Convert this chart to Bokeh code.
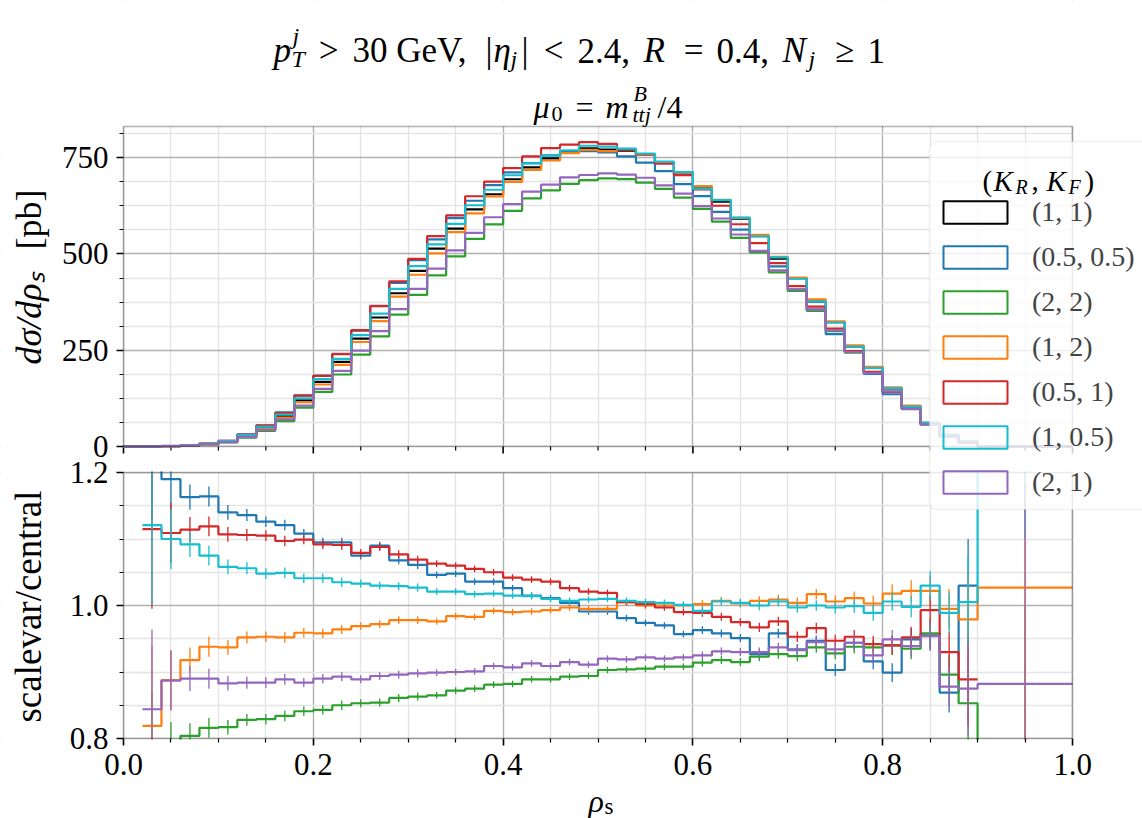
import math
from bokeh.plotting import figure
from bokeh.models import (Range1d, FixedTicker, PrintfTickFormatter, CustomJSTickFormatter,
                          Label, Legend, LegendItem, LinearAxis, Grid, BoxAnnotation)
from bokeh.embed import file_html
from bokeh.resources import INLINE

nan = float("nan")

# ---------------- data ----------------
bin_edges = [0.00, 0.02, 0.04, 0.06, 0.08, 0.10, 0.12, 0.14, 0.16, 0.18, 0.20, 0.22, 0.24,
             0.26, 0.28, 0.30, 0.32, 0.34, 0.36, 0.38, 0.40, 0.42, 0.44, 0.46, 0.48, 0.50,
             0.52, 0.54, 0.56, 0.58, 0.60, 0.62, 0.64, 0.66, 0.68, 0.70, 0.72, 0.74, 0.76,
             0.78, 0.80, 0.82, 0.84, 0.86, 0.88, 0.90, 1.00]

# central prediction (K_R, K_F) = (1, 1), d sigma / d rho_s [pb]
central = [0.0, 0.4, 1.2, 3.2, 6.5, 13, 28, 49, 79, 120, 168, 220, 280, 335, 398, 456, 514,
           566, 616, 655, 694, 725, 748, 764, 774, 771, 768, 757, 737, 712, 675, 636, 592,
           546, 488, 437, 376, 323, 260, 206, 151, 104, 60, 30, 12, 0.4]

# scale variation / central
ratio_05_05 = [nan, 1.25, 1.19, 1.163, 1.164, 1.140, 1.136, 1.126, 1.121, 1.108, 1.095, 1.095,
               1.075, 1.090, 1.068, 1.061, 1.046, 1.048, 1.036, 1.036, 1.026, 1.015, 1.011,
               1.004, 0.991, 0.991, 0.981, 0.974, 0.970, 0.957, 0.963, 0.958, 0.951, 0.927,
               0.958, 0.934, 0.947, 0.903, 0.944, 0.916, 0.899, 0.949, 0.955, 0.869, 1.030, nan]
ratio_2_2 = [nan, 0.75, 0.78, 0.804, 0.816, 0.817, 0.828, 0.829, 0.834, 0.841, 0.843, 0.850,
             0.853, 0.854, 0.861, 0.863, 0.865, 0.872, 0.875, 0.881, 0.882, 0.889, 0.889,
             0.893, 0.894, 0.903, 0.904, 0.905, 0.908, 0.908, 0.914, 0.918, 0.915, 0.923,
             0.927, 0.924, 0.937, 0.928, 0.938, 0.937, 0.940, 0.935, 0.958, 0.896, 0.853, 0.70]
ratio_1_2 = [nan, 0.819, 0.888, 0.918, 0.938, 0.937, 0.952, 0.953, 0.952, 0.959, 0.958, 0.964,
             0.969, 0.972, 0.978, 0.978, 0.976, 0.984, 0.983, 0.992, 0.990, 0.991, 0.993,
             0.997, 0.995, 0.995, 1.005, 1.000, 1.000, 1.000, 1.002, 1.007, 1.003, 1.007,
             1.009, 1.004, 1.017, 1.006, 1.011, 1.003, 1.018, 1.022, 1.022, 0.995, 0.979, 1.027]
ratio_05_1 = [nan, 1.115, 1.109, 1.114, 1.119, 1.107, 1.106, 1.105, 1.097, 1.099, 1.092, 1.091,
              1.079, 1.088, 1.077, 1.069, 1.063, 1.060, 1.055, 1.050, 1.042, 1.039, 1.036,
              1.026, 1.021, 1.019, 1.005, 1.002, 0.997, 0.990, 0.989, 0.983, 0.975, 0.967,
              0.976, 0.953, 0.966, 0.947, 0.953, 0.942, 0.940, 0.952, 0.993, 0.930, 0.889, nan]
ratio_1_05 = [nan, 1.121, 1.100, 1.092, 1.075, 1.058, 1.056, 1.048, 1.049, 1.041, 1.041, 1.035,
              1.033, 1.030, 1.029, 1.027, 1.021, 1.021, 1.017, 1.018, 1.015, 1.014, 1.010,
              1.007, 1.009, 1.010, 1.007, 1.005, 1.004, 1.001, 0.992, 1.006, 1.004, 1.000,
              1.006, 0.997, 1.000, 0.997, 0.999, 0.989, 1.006, 0.998, 1.030, 0.989, 1.005, 1.40]
ratio_2_1 = [nan, 0.844, 0.887, 0.890, 0.890, 0.883, 0.884, 0.884, 0.889, 0.884, 0.890, 0.893,
             0.889, 0.894, 0.896, 0.898, 0.899, 0.900, 0.901, 0.909, 0.907, 0.913, 0.909,
             0.915, 0.911, 0.920, 0.919, 0.922, 0.920, 0.922, 0.925, 0.931, 0.930, 0.930,
             0.937, 0.933, 0.945, 0.934, 0.944, 0.925, 0.949, 0.939, 0.954, 0.878, 0.875, 0.882]
# statistical uncertainty of the ratios (half width of the error bars)
ratio_err = [nan, 0.12, 0.045, 0.019, 0.015, 0.011, 0.009, 0.008, 0.008, 0.007, 0.007, 0.007,
             0.006, 0.006, 0.006, 0.006, 0.005, 0.005, 0.005, 0.005, 0.005, 0.005, 0.005,
             0.005, 0.005, 0.005, 0.005, 0.005, 0.005, 0.005, 0.006, 0.006, 0.006, 0.007,
             0.007, 0.008, 0.008, 0.009, 0.010, 0.012, 0.014, 0.016, 0.022, 0.030, 0.070, 0.30]

series_labels = ["(1, 1)", "(0.5, 0.5)", "(2, 2)", "(1, 2)", "(0.5, 1)", "(1, 0.5)", "(2, 1)"]
series_colors = ["#000000", "#1f77b4", "#2ca02c", "#ff7f0e", "#d62728", "#17becf", "#9467bd"]
series_ratios = [None, ratio_05_05, ratio_2_2, ratio_1_2, ratio_05_1, ratio_1_05, ratio_2_1]

x_major_ticks = [0.0, 0.2, 0.4, 0.6, 0.8, 1.0]
x_minor_ticks = [0.05, 0.1, 0.15, 0.25, 0.3, 0.35, 0.45, 0.5, 0.55, 0.65, 0.7, 0.75,
                 0.85, 0.9, 0.95]
top_y_ticks = [0, 250, 500, 750]
top_y_minor = [62.5, 125, 187.5, 312.5, 375, 437.5, 562.5, 625, 687.5, 812.5]
bot_y_ticks = [0.8, 1.0, 1.2]
bot_y_minor = [0.85, 0.9, 0.95, 1.05, 1.1, 1.15]
x_lim = (0.0, 1.0)
top_y_lim = (0.0, 831.0)
bot_y_lim = (0.8, 1.2)

# ---------------- layout constants (canvas pixels) ----------------
FONT = "Liberation Serif"
W, H = 1142, 818
FL, FR = 123, 1072      # panels left / right
TT, TB = 126, 446       # top panel top / bottom
BT, BB = 472, 738       # ratio panel top / bottom
TICK_FS = "31px"
GRID_MAJOR = "#b0b0b0"
GRID_MINOR = "#e4e4e4"
LINE_W = 2.2


def extra_range(v0, v1, d0, d1, length):
    """Range whose values v0/v1 sit d0/d1 pixels from the start edge of a frame."""
    a, b = d0 / length, d1 / length
    span = (v1 - v0) / (b - a)
    start = v0 - a * span
    return Range1d(start=start, end=start + span)


# The frame is the whole canvas: default ranges are canvas pixels (y downwards);
# both panels are drawn through their own extra ranges.
p = figure(width=W, height=H, x_range=Range1d(0, W), y_range=Range1d(H, 0),
           output_backend="svg", toolbar_location=None,
           x_axis_location=None, y_axis_location=None,
           min_border_left=0, min_border_right=0, min_border_top=0, min_border_bottom=0)
p.outline_line_color = None
p.background_fill_color = "white"
p.border_fill_color = "white"
for g in p.grid:
    g.visible = False

p.extra_x_ranges = {"rho": extra_range(x_lim[0], x_lim[1], FL, FR, W)}
p.extra_y_ranges = {
    "xs": extra_range(top_y_lim[0], top_y_lim[1], H - TB, H - TT, H),
    "ratio": extra_range(bot_y_lim[0], bot_y_lim[1], H - BB, H - BT, H),
}


def top_px(v):
    return TB - (v - top_y_lim[0]) / (top_y_lim[1] - top_y_lim[0]) * (TB - TT)


def bot_px(v):
    return BB - (v - bot_y_lim[0]) / (bot_y_lim[1] - bot_y_lim[0]) * (BB - BT)


# ---------------- grids (per panel) ----------------
def add_grid(dim, ticks, minor, **names):
    p.add_layout(Grid(dimension=dim, ticker=FixedTicker(ticks=ticks, minor_ticks=minor),
                      grid_line_color=GRID_MAJOR, grid_line_width=1.4,
                      minor_grid_line_color=GRID_MINOR, minor_grid_line_width=1.4, **names))


add_grid(0, x_major_ticks, x_minor_ticks, x_range_name="rho")
add_grid(1, top_y_ticks, top_y_minor, y_range_name="xs")
add_grid(1, bot_y_ticks, bot_y_minor, y_range_name="ratio")

# white masks hiding the grid outside the two panels
for l, r, t, b in [(0, W, 0, TT), (0, W, TB, BT), (0, W, BB, H), (0, FL, 0, H), (FR, W, 0, H)]:
    p.add_layout(BoxAnnotation(left=l, right=r, top=t, bottom=b, fill_color="white",
                               fill_alpha=1, line_alpha=0, level="underlay"))


# ---------------- axes (fixed at the panel edges) ----------------
def style_axis(ax):
    ax.axis_line_color = None
    ax.major_tick_line_color = "black"
    ax.major_tick_line_width = 1.6
    ax.major_tick_out = 7
    ax.major_tick_in = 0
    ax.minor_tick_line_color = "black"
    ax.minor_tick_line_width = 1.2
    ax.minor_tick_out = 4
    ax.minor_tick_in = 0
    ax.major_label_text_font = FONT
    ax.major_label_text_font_size = TICK_FS
    ax.major_label_text_color = "black"
    ax.major_label_standoff = 8


xaxis = LinearAxis(x_range_name="rho", fixed_location=BB,
                   ticker=FixedTicker(ticks=x_major_ticks, minor_ticks=x_minor_ticks),
                   formatter=PrintfTickFormatter(format="%.1f"))
style_axis(xaxis)
p.add_layout(xaxis, "below")

ytick_px = [top_px(v) for v in top_y_ticks] + [bot_px(v) for v in bot_y_ticks]
ytick_txt = [str(v) for v in top_y_ticks] + ["%.1f" % v for v in bot_y_ticks]
yminor_px = [top_px(v) for v in top_y_minor] + [bot_px(v) for v in bot_y_minor]
yaxis = LinearAxis(fixed_location=FL, ticker=FixedTicker(ticks=ytick_px, minor_ticks=yminor_px))
yaxis.formatter = CustomJSTickFormatter(args=dict(px=ytick_px, txt=ytick_txt), code="""
    let best = -1, bd = 1e9;
    for (let i = 0; i < px.length; i++) {
        const d = Math.abs(px[i] - tick);
        if (d < bd) { bd = d; best = i; }
    }
    return bd < 0.05 ? txt[best] : "";
""")
style_axis(yaxis)
p.add_layout(yaxis, "left")

# x ticks at the bottom of the upper panel (shared x axis)
p.segment(x0=x_major_ticks, y0=[TB] * len(x_major_ticks), x1=x_major_ticks,
          y1=[TB + 7] * len(x_major_ticks), x_range_name="rho",
          line_color="black", line_width=1.6)
p.segment(x0=x_minor_ticks, y0=[TB] * len(x_minor_ticks), x1=x_minor_ticks,
          y1=[TB + 4] * len(x_minor_ticks), x_range_name="rho",
          line_color="black", line_width=1.2)


# ---------------- data glyphs ----------------
def stairs(vals, color, yname):
    idx = [i for i, v in enumerate(vals) if v == v]
    i0, i1 = idx[0], idx[-1]
    xs = bin_edges[i0:i1 + 2]
    ys = list(vals[i0:i1 + 1]) + [vals[i1]]
    p.step(xs, ys, mode="after", line_color=color, line_width=LINE_W,
           x_range_name="rho", y_range_name=yname)


# values beyond the ratio panel are drawn just outside it and masked
over, under = bot_y_lim[1] + 0.02, bot_y_lim[0] - 0.02


def clamp(v):
    return max(under, min(over, v))


for lab, col, rat in zip(series_labels, series_colors, series_ratios):
    if rat is None:
        vals = list(central)
    else:
        vals = [c * r if r == r else c for c, r in zip(central, rat)]
    stairs(vals, col, "xs")

for lab, col, rat in zip(series_labels, series_colors, series_ratios):
    if rat is None:
        continue
    stairs([clamp(r) if r == r else r for r in rat], col, "ratio")
    xc, y0, y1 = [], [], []
    for i, r in enumerate(rat):
        if r == r:
            xc.append(0.5 * (bin_edges[i] + bin_edges[i + 1]))
            y0.append(clamp(r - ratio_err[i]))
            y1.append(clamp(r + ratio_err[i]))
    p.segment(x0=xc, y0=y0, x1=xc, y1=y1, line_color=col, line_width=1.3,
              x_range_name="rho", y_range_name="ratio")

# masks (drawn after the glyphs, before the axes) for overflow of the ratio panel
p.add_layout(BoxAnnotation(left=FL, right=W, top=TB + 8, bottom=BT - 1, fill_color="white",
                           fill_alpha=1, line_alpha=0, level="glyph"))
p.add_layout(BoxAnnotation(left=0, right=W, top=BB + 1, bottom=H, fill_color="white",
                           fill_alpha=1, line_alpha=0, level="glyph"))

# panel frames
for yname, ylim in (("xs", top_y_lim), ("ratio", bot_y_lim)):
    p.add_layout(BoxAnnotation(left=x_lim[0], right=x_lim[1], bottom=ylim[0], top=ylim[1],
                               x_range_name="rho", y_range_name=yname,
                               fill_alpha=0, line_color="black", line_width=1.6))

# ---------------- legend ----------------
LEG_LEFT, LEG_TOP, LEG_BOTTOM = 929, 141, 509
# legend box (drawn separately so that the legend title can sit on top of it)
p.add_layout(BoxAnnotation(left=LEG_LEFT, right=W + 30, top=LEG_TOP, bottom=LEG_BOTTOM,
                           fill_color="white", fill_alpha=0.8, line_color="#cccccc",
                           line_width=1.5, border_radius=8, level="annotation"))

items = []
for lab, col in zip(series_labels, series_colors):
    r = p.quad(left=[nan], right=[nan], top=[nan], bottom=[nan], fill_alpha=0,
               line_color=col, line_width=2, x_range_name="rho", y_range_name="xs")
    items.append(LegendItem(label=lab, renderers=[r]))

legend = Legend(items=items, location=(LEG_LEFT, H - (LEG_BOTTOM - 5)),
                title=" ", title_text_font=FONT, title_text_font_size="20px",
                title_standoff=24,
                glyph_width=80, glyph_height=28, label_standoff=17, label_height=28,
                spacing=13, padding=6, margin=0,
                label_text_font=FONT, label_text_font_size="28px",
                background_fill_alpha=0, border_line_alpha=0)
p.add_layout(legend)


# ---------------- texts (canvas pixel coordinates) ----------------
def put(text, cx, cy, size, italic=False, align="left", baseline="alphabetic", angle=0.0):
    p.add_layout(Label(x=cx, y=cy, text=text, text_font=FONT, text_font_size=f"{size}px",
                       text_font_style="italic" if italic else "normal",
                       text_color="black", text_align=align, text_baseline=baseline,
                       angle=angle))


# suptitle: p_T^j > 30 GeV, |eta_j| < 2.4, R = 0.4, N_j >= 1
b1, s1, s1s = 50, 35, 24
put("p", 273, b1, s1, italic=True)
put("j", 292, b1 - 15, s1s, italic=True)
put("T", 291, b1 + 8, s1s, italic=True)
put(">", 328, b1, s1, align="center")
put("30 GeV,", 352, b1, s1)
put("|", 485, b1, s1)
put("η", 493, b1, s1, italic=True)
put("j", 510, b1 + 8, s1s, italic=True)
put("|", 521, b1, s1)
put("<", 553, b1, s1, align="center")
put("2.4,", 577, b1, s1)
put("R", 643, b1, s1, italic=True)
put("=", 693, b1, s1, align="center")
put("0.4,", 716, b1, s1)
put("N", 782, b1, s1, italic=True)
put("j", 808, b1 + 8, s1s, italic=True)
put("≥", 844, b1, s1, align="center")
put("1", 867, b1, s1)

# axes title: mu_0 = m_ttj^B / 4
b2, s2, s2s = 106, 32, 22
put("μ", 533, b2, s2, italic=True)
put("0", 551, b2 + 7, s2s)
put("=", 584, b2, s2, align="center")
put("m", 605, b2, s2, italic=True)
put("B", 633, b2 - 13, s2s, italic=True)
put("ttj", 632, b2 + 8, s2s, italic=True)
put("/4", 657, b2, s2)

# legend title: (K_R, K_F)
b3, s3, s3s = 180, 29, 20
put("(", 982, b3, s3)
put("K", 993, b3, s3, italic=True)
put("R", 1015, b3 + 6, s3s, italic=True)
put(",", 1031, b3, s3)
put("K", 1046, b3, s3, italic=True)
put("F", 1068, b3 + 6, s3s, italic=True)
put(")", 1084, b3, s3)

# axis labels
put("dσ/dρₛ", 28, 318, 36, italic=True, align="center", baseline="middle", angle=math.pi / 2)
put("[pb]", 28, 219, 36, align="center", baseline="middle", angle=math.pi / 2)
put("scalevar/central", 28, 606, 37, align="center", baseline="middle", angle=math.pi / 2)
put("ρ", 588, 800, 32, italic=True)
put("s", 604, 806, 23)

open("out.html", "w").write(file_html(p, INLINE))
